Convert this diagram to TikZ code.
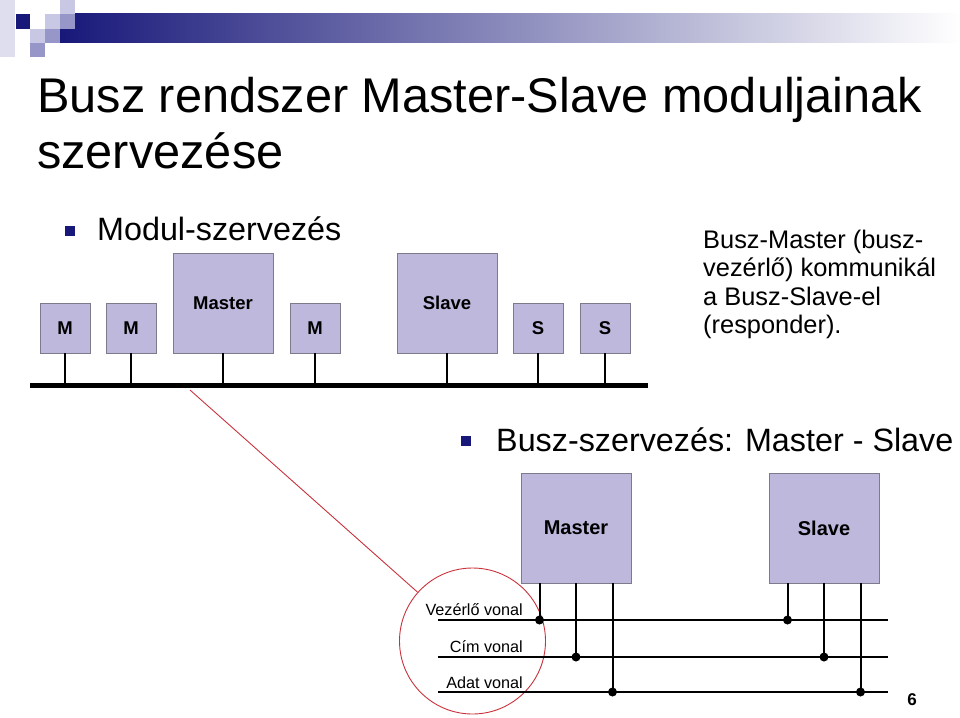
\documentclass[tikz,border=0pt]{standalone}
\usepackage{fontspec}
\setmainfont{Liberation Sans}
\usetikzlibrary{positioning}
\definecolor{boxfill}{RGB}{191,184,221}
\definecolor{boxline}{RGB}{125,122,140}
\definecolor{navy}{RGB}{24,24,122}
\definecolor{lilac}{RGB}{200,200,228}
\definecolor{midlilac}{RGB}{150,150,200}
\definecolor{redline}{RGB}{200,50,60}

\begin{document}
\begin{tikzpicture}[x=1pt, y=-1pt,
  modul/.style = {draw=boxline, fill=boxfill, line width=0.8pt, inner sep=0pt, font=\fontsize{18.5}{20}\selectfont\bfseries},
  small/.style = {modul, minimum width=50pt, minimum height=50pt},
  big/.style = {modul, minimum width=100pt, minimum height=100pt},
  unit/.style = {modul, minimum width=110pt, minimum height=110pt, font=\fontsize{20}{22}\selectfont\bfseries},
  txt/.style = {inner sep=0pt, anchor=base west},
  bullet/.style = {fill=navy, minimum size=10pt, inner sep=0pt},
  stem/.style = {line width=2pt},
  wire/.style = {line width=1.8pt},
  dot/.style = {circle, fill=black, minimum size=9pt, inner sep=0pt}]

\useasboundingbox (0, 0) rectangle (960, 717);

% header
\fill[lilac!60] (0, 0) rectangle (15, 57);
\shade[left color=navy, right color=white] (60, 14) rectangle (960, 43);
\fill[navy] (16, 14) rectangle (30, 29);
\fill[lilac] (45, 14) rectangle (60, 29);
\fill[lilac] (60, 0) rectangle (75, 14);
\fill[midlilac] (60, 14) rectangle (75, 29);
\fill[lilac] (30, 29) rectangle (45, 43);
\fill[midlilac] (45, 29) rectangle (60, 43);
\fill[midlilac] (30, 43) rectangle (45, 57);

\node[txt, font=\fontsize{48.7}{58}\selectfont] (title1) at (37, 112) {Busz rendszer Master-Slave moduljainak};
\node[txt, font=\fontsize{48.7}{58}\selectfont] (title2) at (37, 168) {szervezése};

\node[bullet] (b1) at (70, 231) {};
\node[txt, font=\fontsize{32.3}{38}\selectfont] (modszerv) at (97, 240) {Modul-szervezés};

\node[txt, font=\fontsize{25.4}{28}\selectfont] (r1) at (703, 248) {Busz-Master (busz-};
\node[txt, font=\fontsize{25.4}{28}\selectfont] (r2) at (703, 276.5) {vezérlő) kommunikál};
\node[txt, font=\fontsize{25.4}{28}\selectfont] (r3) at (703, 305) {a Busz-Slave-el};
\node[txt, font=\fontsize{25.4}{28}\selectfont] (r4) at (703, 333.5) {(responder).};

% modulok a buszon
\node[small] (M1) at (65, 328) {M};
\node[small] (M2) at (131, 328) {M};
\node[big] (MA) at (223, 303) {Master};
\node[small] (M3) at (315, 328) {M};
\node[big] (SL) at (447, 303) {Slave};
\node[small] (S1) at (538, 328) {S};
\node[small] (S2) at (605, 328) {S};

\coordinate (busL) at (30, 385);
\coordinate (busR) at (648, 385);
\draw[line width=5pt] (busL) -- (busR);

\foreach \m in {M1, M2, MA, M3, SL, S1, S2}
  \draw[stem] (\m.south) -- (\m.south |- busL);

% nagyito
\coordinate (rstart) at (190, 390);
\node[draw=redline, circle, minimum size=146pt, inner sep=0pt, line width=0.9pt] (lupe) at (472.5, 641) {};
\draw[redline, line width=0.9pt] (rstart) -- (lupe);

\node[bullet] (b2) at (466, 441) {};
\node[txt, font=\fontsize{32.3}{38}\selectfont] (buszszerv) at (496, 451) {Busz-szervezés: Master - Slave};

\node[unit] (UM) at (576, 528) {Master};
\node[unit] (US) at (824, 528) {Slave};

\coordinate (vez1) at (438, 620);
\coordinate (vez2) at (888, 620);
\coordinate (cim1) at (438, 657);
\coordinate (cim2) at (888, 657);
\coordinate (adat1) at (438, 692);
\coordinate (adat2) at (888, 692);

\draw[wire] (vez1) -- (vez2);
\draw[wire] (cim1) -- (cim2);
\draw[wire] (adat1) -- (adat2);

\node[inner sep=0pt, anchor=base east, font=\fontsize{16.2}{18}\selectfont] (lvez) at (523, 615) {Vezérlő vonal};
\node[inner sep=0pt, anchor=base east, font=\fontsize{16.2}{18}\selectfont] (lcim) at (523, 652) {Cím vonal};
\node[inner sep=0pt, anchor=base east, font=\fontsize{16.2}{18}\selectfont] (ladat) at (523, 688) {Adat vonal};

\foreach \u in {UM, US} {
  \coordinate (\u1) at ([xshift=-36.5pt]\u.south);
  \coordinate (\u2) at (\u.south);
  \coordinate (\u3) at ([xshift=36.5pt]\u.south);
  \draw[stem] (\u1) -- (\u1 |- vez1) node[dot] {};
  \draw[stem] (\u2) -- (\u2 |- cim1) node[dot] {};
  \draw[stem] (\u3) -- (\u3 |- adat1) node[dot] {};
}

\node[font=\fontsize{17}{19}\selectfont\bfseries, inner sep=0pt] (page) at (912, 700) {6};

\end{tikzpicture}
\end{document}
